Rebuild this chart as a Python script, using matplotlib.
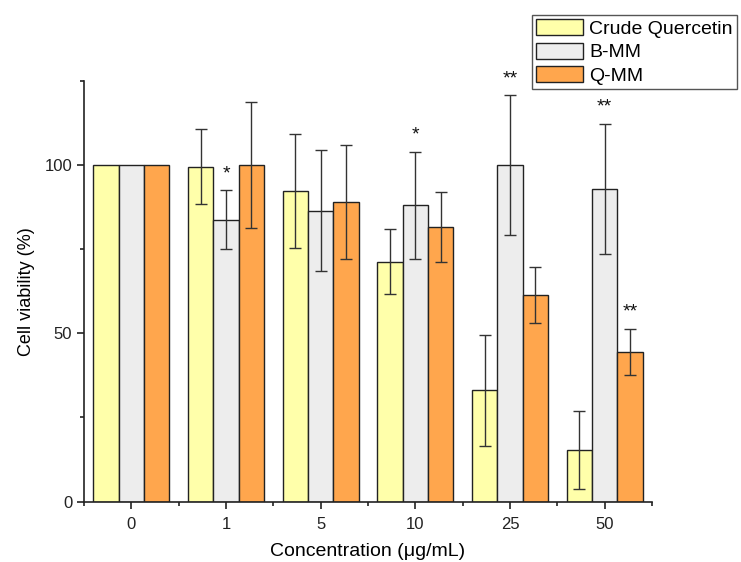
import matplotlib.pyplot as plt
import numpy as np
from matplotlib.ticker import MultipleLocator

plt.rcParams['font.family'] = ['Liberation Sans', 'DejaVu Sans']

concentrations = ['0', '1', '5', '10', '25', '50']
series = ['Crude Quercetin', 'B-MM', 'Q-MM']

crude = [100, 99.5, 92.3, 71.3, 33.0, 15.3]
crude_err = [0, 11.1, 17.0, 9.7, 16.5, 11.7]
bmm = [100, 83.8, 86.5, 88.0, 100.0, 93.0]
bmm_err = [0, 8.7, 18.0, 16.0, 20.7, 19.3]
qmm = [100, 100.0, 89.1, 81.6, 61.4, 44.5]
qmm_err = [0, 18.7, 17.0, 10.3, 8.4, 6.8]

# significance marks: (group, series index, label)
stars = [(1, 1, '*'), (3, 1, '*'), (4, 1, '**'), (5, 1, '**'), (5, 2, '**')]

colors = ['#FFFFAA', '#EDEDED', '#FFA64D']

fig = plt.figure(figsize=(7.41, 5.62), dpi=100)
ax = fig.add_axes([84 / 741, 1 - 501.5 / 562, (652 - 84) / 741, (501.5 - 81) / 562])

x = np.arange(len(concentrations))
w = 0.8 / 3
vals = [crude, bmm, qmm]
errs = [crude_err, bmm_err, qmm_err]
for i in range(3):
    e = np.array(errs[i], dtype=float)
    e_plot = np.where(e > 0, e, np.nan)
    ax.bar(x + (i - 1) * w, vals[i], w, color=colors[i], edgecolor='#222222',
           linewidth=1.0, label=series[i], zorder=2)
    ax.errorbar(x + (i - 1) * w, vals[i], yerr=e_plot, fmt='none', ecolor='#333333',
                elinewidth=1.0, capsize=4, capthick=1.0, zorder=3)

for g, s, lab in stars:
    top = vals[s][g] + errs[s][g]
    ax.text(x[g] + (s - 1) * w, top + 5.0, lab, ha='center', va='center',
            fontsize=14, color='#111111')

ax.set_xlim(-0.5, 5.5)
ax.set_ylim(0, 125)
ax.set_xticks(x)
ax.set_xticklabels(concentrations)
ax.set_xticks(np.arange(-0.5, 6, 1), minor=True)
ax.set_yticks([0, 50, 100])
ax.yaxis.set_minor_locator(MultipleLocator(25))
ax.tick_params(axis='both', which='major', direction='out', length=5, width=1.2,
               labelsize=12, colors='#222222')
ax.tick_params(axis='both', which='minor', direction='out', length=3, width=1.2,
               colors='#222222')
ax.tick_params(axis='x', pad=6)
for sp in ['top', 'right']:
    ax.spines[sp].set_visible(False)
for sp in ['left', 'bottom']:
    ax.spines[sp].set_linewidth(1.2)
    ax.spines[sp].set_color('#222222')

ax.set_xlabel('Concentration (μg/mL)', fontsize=14, labelpad=8)
ax.set_ylabel('Cell viability (%)', fontsize=13, labelpad=7)

fig.legend(loc='upper left', bbox_to_anchor=(532 / 741, 1 - 15 / 562), fontsize=14,
           frameon=True, fancybox=False, edgecolor='#555555', framealpha=1,
           handlelength=2.4, handleheight=0.9, handletextpad=0.35, labelspacing=0.25,
           borderpad=0.2, borderaxespad=0)

fig.savefig('out.png', dpi=100)
